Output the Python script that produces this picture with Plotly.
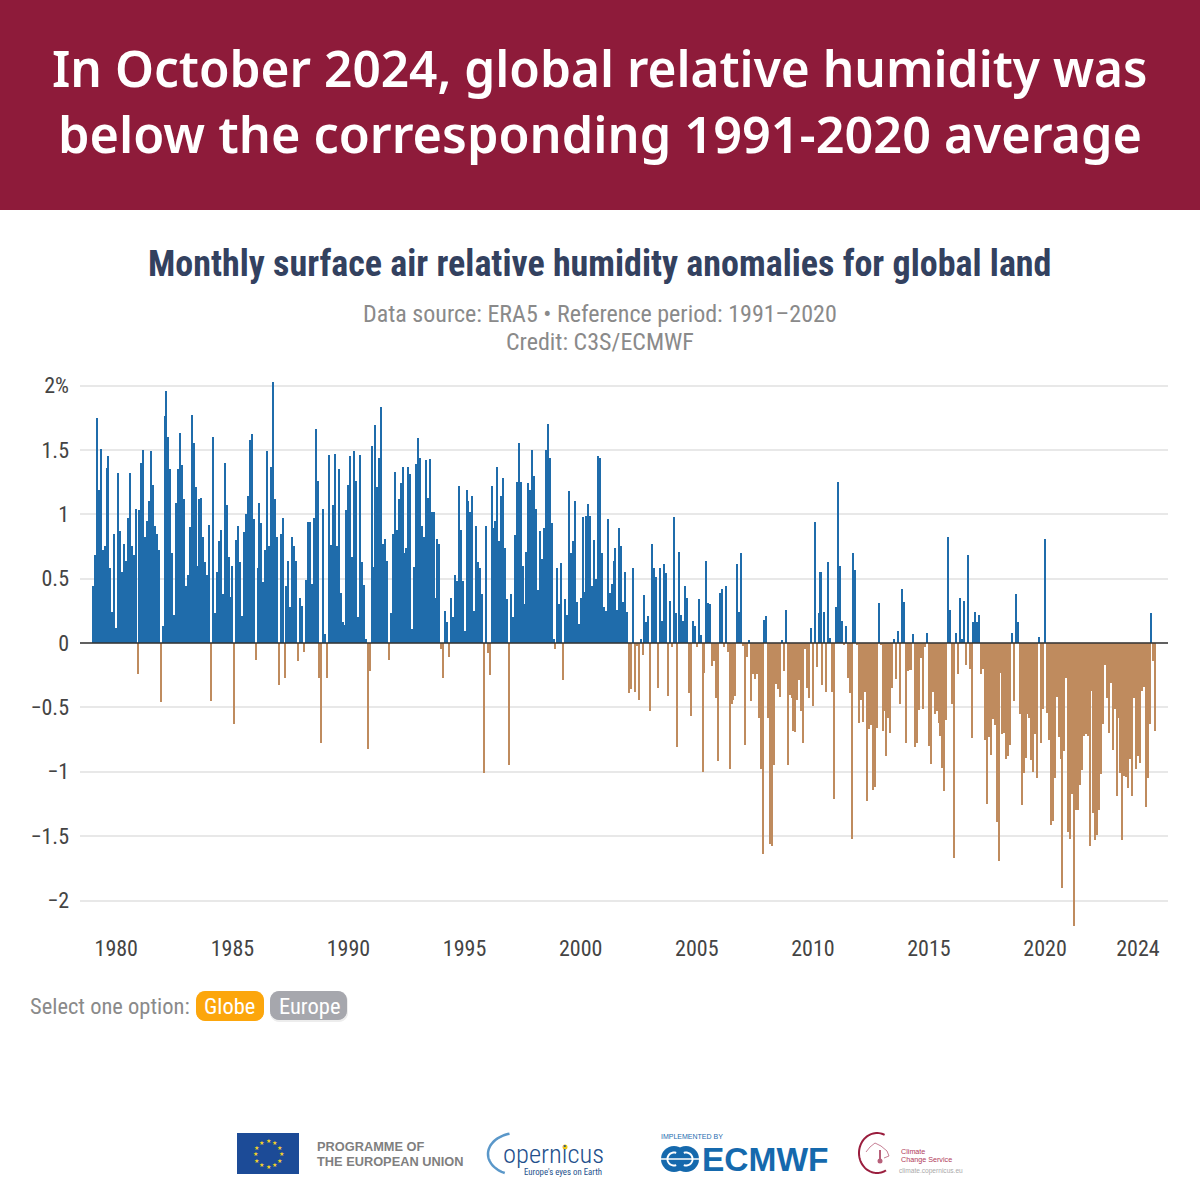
import math
import pandas as pd
import plotly.graph_objects as go

anomalies = [
 .44,.68,1.75,1.19,1.51,.72,.75,1.36,1.45,.58,.24,.85,
 .12,1.32,.87,.55,.77,.64,.97,1.32,.75,.68,1.04,-.24,
 1.03,1.40,1.50,.82,.95,1.10,1.49,1.23,.91,.85,.72,-.46,
 .13,1.76,1.96,1.60,1.35,.70,.22,1.09,1.35,1.63,1.38,1.12,
 .44,.53,.90,1.77,1.55,1.21,.60,1.12,1.13,.82,.63,.53,
 .92,-.45,1.60,.23,.55,.79,.88,.38,1.40,1.07,.67,.36,
 .60,-.63,.80,.91,.63,.21,.86,1.00,1.14,1.58,1.62,.96,
 -.13,.58,1.09,.93,.47,.72,1.49,.75,1.37,2.03,1.12,.82,
 -.33,.85,.97,-.27,.44,.64,.28,.82,.75,.64,-.14,.35,
 .29,-.07,.49,.94,.94,.46,.97,1.66,1.26,-.27,-.78,1.04,
 .07,-.27,1.46,.76,1.07,1.47,.75,1.35,.39,.16,.14,1.03,
 1.23,1.45,.67,1.49,1.26,.20,1.46,.63,.45,.03,-.82,-.22,
 1.53,.59,1.69,1.21,1.44,1.83,.77,.81,.64,-.13,.23,.85,
 1.33,.88,1.12,1.24,1.37,.70,.74,1.37,1.31,.11,.59,1.39,
 1.59,1.44,.91,.82,1.42,1.13,1.43,1.02,1.02,.35,.81,.77,
 -.05,-.27,.25,.16,-.11,.35,.20,.53,.48,1.22,.88,.48,
 .09,1.19,1.10,1.02,1.14,.25,.91,.63,.58,.38,-1.01,.91,
 -.08,-.25,1.22,.89,.95,1.37,.79,1.14,1.28,.74,.34,-.95,
 .38,.20,.84,1.25,1.55,1.25,.60,.30,.71,1.24,1.19,1.50,
 1.30,1.04,.41,.87,.65,.89,1.50,1.70,1.44,.93,.03,-.05,
 .58,.30,.62,-.29,.34,.22,1.18,.70,.79,1.10,.32,.15,
 .35,.98,.40,.99,1.08,.99,.44,.80,.50,1.45,1.44,.70,
 .28,.25,.96,.39,.46,.64,.74,.26,.89,.75,.32,.55,
 .24,-.39,-.36,.58,-.38,-.02,-.44,.03,-.09,.37,.16,.21,
 -.53,.77,.58,.51,-.35,.58,.17,.61,.54,-.41,.33,-.03,
 .98,.23,-.81,.71,.22,.17,.44,.35,-.39,-.57,.17,.13,
 -.03,.34,.06,-1.00,-.23,.64,.31,.30,-.18,-.14,-.43,-.92,
 .39,.42,-.03,.44,-.07,-.98,-.47,-.44,-.41,.61,.24,.70,
 -.02,-.79,-.11,.02,-.45,-.24,-.28,-.24,-.58,-.98,-1.64,.18,
 .21,-.58,-1.56,-1.58,-.95,-.32,-.36,-.42,.02,-.22,.26,-.95,
 -.40,-.43,-.68,-.69,-.44,-.29,-.53,-.78,-.05,-.35,-.43,.12,
 -.49,.94,-.19,.23,.55,-.33,.24,-.38,.63,.04,-.38,-1.21,
 .28,1.25,.60,.17,-.01,.13,-.27,-.39,-1.52,.70,.57,-.01,
 -.62,-.44,-.61,-.38,-1.23,-.67,-.64,-1.14,-1.12,-.66,.31,-.01,
 -.68,-.53,-.88,-.58,-.70,-.35,.03,-.28,.09,-.47,.42,.32,
 -.78,-.22,-.21,-.21,.07,-.81,-.78,-.52,-.12,-.51,-.03,.08,
 -.80,-.94,-.38,-.55,-.53,-.62,-.72,-.97,-1.15,-.60,.82,.26,
 -.47,-1.67,.08,-.24,.35,.03,.33,-.17,.68,-.20,-.74,.16,
 .24,.16,.22,-.24,-.20,-.75,-1.25,-.73,-.87,-.59,-.64,-1.39,
 -1.69,-.23,-.71,-.70,-.90,-.88,-.79,.08,-.45,.38,.16,-.55,
 -1.26,-1.01,-.89,-.55,-.58,-.91,-1.00,-.71,-1.05,.05,-.78,-.51,
 .81,-.54,-.75,-1.41,-1.38,-1.05,-.42,-.73,-.90,-1.90,-.84,-.27,
 -1.47,-1.52,-1.17,-2.20,-1.30,-1.30,-1.10,-.99,-.72,-.71,-.72,-1.58,
 -.37,-1.32,-1.53,-1.49,-1.30,-1.02,-.63,-.17,-.43,-.70,-.31,-.83,
 -.51,-1.19,-.58,-1.01,-1.53,-1.03,-1.04,-1.13,-.90,-1.19,-.43,-.98,
 -.88,-.93,-.37,-.34,-1.27,-1.05,-.63,.23,-.14,-.68,
]
months = pd.date_range("1979-01-01", periods=len(anomalies), freq="MS")
year_ticks = [1980,1985,1990,1995,2000,2005,2010,2015,2020,2024]
y_ticks = [2,1.5,1,.5,0,-.5,-1,-1.5,-2]
y_labels = ["2%","1.5","1","0.5","0","−0.5","−1","−1.5","−2"]

BLUE, BROWN = "#1f6cab", "#bf8b5e"
COND = "Roboto Condensed, Liberation Sans Narrow, Roboto"
W = H = 1200
px = lambda x: x / W
py = lambda y: 1 - y / H
shapes, notes = [], []

def txt(x, y, s, size, color, family=COND, weight=400, anchor="center"):
    notes.append(dict(x=px(x), y=py(y), xref="paper", yref="paper", text=s, showarrow=False,
                      xanchor=anchor, yanchor="middle", align=anchor,
                      font=dict(size=size, color=color, family=family, weight=weight)))

def rect(x0, y0, x1, y1, color):
    shapes.append(dict(type="rect", xref="paper", yref="paper", x0=px(x0), x1=px(x1),
                       y0=py(y0), y1=py(y1), fillcolor=color, line_width=0, layer="below"))

def circle(cx, cy, r, color):
    shapes.append(dict(type="circle", xref="paper", yref="paper", x0=px(cx-r), x1=px(cx+r),
                       y0=py(cy-r), y1=py(cy+r), fillcolor=color, line_width=0))

def poly(points, color, width, fill=None):
    d = "M " + " L ".join(f"{px(a):.5f},{py(b):.5f}" for a, b in points)
    if fill:
        d += " Z"
    shapes.append(dict(type="path", xref="paper", yref="paper", path=d,
                       line=dict(color=color, width=width), fillcolor=fill))

def arc(cx, cy, rx, ry, a0, a1, color, width):
    n = 40
    pts = [(cx + rx*math.cos(math.radians(a0+(a1-a0)*k/n)),
            cy + ry*math.sin(math.radians(a0+(a1-a0)*k/n))) for k in range(n+1)]
    poly(pts, color, width)

def pill(x0, y0, x1, y1, r, color):
    pts = []
    for cx, cy, a in ((x1-r, y0+r, -90), (x1-r, y1-r, 0), (x0+r, y1-r, 90), (x0+r, y0+r, 180)):
        for k in range(7):
            t = math.radians(a + 15*k)
            pts.append((cx + r*math.cos(t), cy + r*math.sin(t)))
    poly(pts, "rgba(0,0,0,0)", 0, fill=color)

# header band and headings
rect(0, 0, 1200, 210, "#8e1b3a")
txt(600, 68, "In October 2024, global relative humidity was", 49.6, "#ffffff", "Noto Sans", 600)
txt(600, 133, "below the corresponding 1991-2020 average", 50.4, "#ffffff", "Noto Sans", 600)
txt(599, 264, "Monthly surface air relative humidity anomalies for global land", 36, "#33415f", COND, 700)
txt(600, 314, "Data source: ERA5 • Reference period: 1991–2020", 24, "#8a8a8a")
txt(600, 342, "Credit: C3S/ECMWF", 24, "#8a8a8a")

# selector
txt(28, 1006, "Select one option:", 22.5, "#8a8a8a", anchor="left")
pill(270, 992, 348, 1022, 9, "rgba(0,0,0,0.07)")
pill(196, 991, 264, 1021, 9, "#fca60c")
pill(270, 991, 347, 1020, 9, "#a6a7ad")
txt(229.5, 1006, "Globe", 22.5, "#ffffff")
txt(309, 1006, "Europe", 22.5, "#ffffff")

# zero line above bars
shapes.append(dict(type="line", xref="x domain", yref="y", x0=0, x1=1, y0=0, y1=0,
                   line=dict(color="#333333", width=1.5), layer="above"))

# EU logo
rect(237, 1133, 299, 1174, "#1c4b97")
for k in range(12):
    t = math.radians(30*k)
    txt(268 + 13*math.cos(t), 1153.5 + 13*math.sin(t), "★", 6, "#f5d327", "DejaVu Sans")
txt(315, 1146, "PROGRAMME OF", 12.8, "#7f7f7f", "Liberation Sans", 700, "left")
txt(315, 1161, "THE EUROPEAN UNION", 12.8, "#7f7f7f", "Liberation Sans", 700, "left")

# Copernicus logo
arc(517, 1154, 29, 21, 255, 115, "#5a97c9", 2.5)
txt(501, 1153, "opernicus", 26.5, "#23508c", COND, 300, "left")
txt(604, 1172, "Europe's eyes on Earth", 8.8, "#23508c", COND, 400, "right")
circle(565, 1147, 2.5, "#f2c618")

# ECMWF logo
txt(659, 1136, "IMPLEMENTED BY", 7, "#1e6db0", "Liberation Sans", 400, "left")
circle(674, 1159, 13, "#1569ad")
circle(686, 1159, 13, "#1569ad")
poly([(661, 1159), (699, 1159)], "#ffffff", 1.5)
arc(674, 1159, 6.5, 6.5, 70, 290, "#ffffff", 2)
arc(686, 1159, 6.5, 6.5, -110, 110, "#ffffff", 2)
txt(700, 1159, "ECMWF", 33.5, "#1569ad", "Liberation Sans", 700, "left")

# Climate Change Service logo
arc(877, 1153, 18, 20, 295, 110, "#9a1d3d", 2)
arc(877, 1153, 18, 20, 60, 110, "#9a1d3d", 2)
poly([(866, 1152), (870, 1147), (875, 1143), (881, 1146), (887, 1151), (889, 1156), (884, 1158)], "#b7607a", 0.8)
poly([(880, 1150), (880, 1160)], "#b7607a", 2)
circle(880, 1161, 2.5, "#b7607a")
txt(899, 1151, "Climate", 7.2, "#b0395a", "Liberation Sans", 400, "left")
txt(899, 1159, "Change Service", 7.2, "#b0395a", "Liberation Sans", 400, "left")
txt(897, 1171, "climate.copernicus.eu", 6.6, "#aaaaaa", "Liberation Sans", 400, "left")

fig = go.Figure(go.Bar(
    x=months, y=anomalies, width=2.75e9,
    marker=dict(color=[BLUE if v >= 0 else BROWN for v in anomalies], line_width=0),
    hoverinfo="x+y",
))
fig.update_layout(
    width=W, height=H, margin=dict(l=0, r=0, t=0, b=0, autoexpand=False), paper_bgcolor="#ffffff",
    plot_bgcolor="#ffffff", showlegend=False, bargap=0, shapes=shapes, annotations=notes,
    font=dict(family=COND),
    xaxis=dict(domain=[px(80), px(1168)], range=["1978-06-10", "2025-04-18"], type="date",
               tickmode="array", tickvals=[f"{y}-01-01" for y in year_ticks],
               ticktext=[str(y) for y in year_ticks], showgrid=False, zeroline=False,
               ticks="", ticklabelstandoff=3, automargin=False,
               tickfont=dict(size=22, color="#444444", family=COND)),
    yaxis=dict(domain=[py(930), py(375)], range=[-287/128.75, 268/128.75], tickmode="array",
               tickvals=y_ticks, ticktext=y_labels, gridcolor="#e8e8e8", gridwidth=1.5, zeroline=False,
               ticks="", ticklabelstandoff=10, automargin=False,
               tickfont=dict(size=22, color="#444444", family=COND)),
)
assert len(anomalies) == 550, len(anomalies)
fig.write_html("out.html", config={"displayModeBar": False},
               post_script="document.body.style.margin='0';document.documentElement.style.overflow='hidden';")
